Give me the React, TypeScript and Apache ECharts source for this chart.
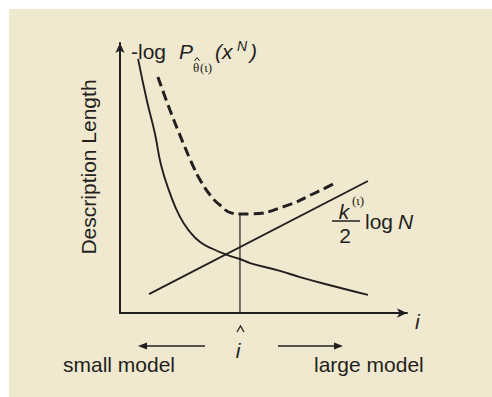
import React, { useEffect, useRef } from "react";
import * as echarts from "echarts";

// model index i (horizontal) and description length (vertical), arbitrary units 0..10
const fitI = [0.63, 0.94, 1.22, 1.43, 1.74, 2.09, 2.44, 2.79, 3.24, 3.73, 4.18, 4.53, 5.57, 6.27, 7.42, 8.64];
const fitLength = [9.41, 7.85, 6.63, 5.48, 4.44, 3.56, 3.0, 2.63, 2.37, 2.15, 2.0, 1.85, 1.56, 1.33, 1.0, 0.67];

const penaltyI = [1.01, 8.64];
const penaltyLength = [0.7, 4.89];

const totalI = [1.32, 1.74, 2.2, 2.58, 2.79, 3.14, 3.48, 3.9, 4.18, 4.53, 5.68, 6.86, 7.56];
const totalLength = [8.74, 7.52, 6.3, 5.37, 4.93, 4.37, 4.0, 3.7, 3.67, 3.67, 3.93, 4.48, 4.85];

const iHat = 4.18;
const iHatLength = 3.67;

const INK = "#231f20";
const SANS = "'Liberation Sans', Arial, sans-serif";
const SERIF = "'Liberation Serif', 'DejaVu Serif', serif";

const zip = (a: number[], b: number[]) => a.map((v, k) => [v, b[k]]);

export default function App() {
  const ref = useRef<HTMLDivElement>(null);
  useEffect(() => {
    document.body.style.margin = "0";
    const chart = echarts.init(ref.current!, undefined, { renderer: "svg" });
    const txt = (x: number, y: number, text: string, extra: any = {}, rot = 0) => ({
      type: "text",
      x,
      y,
      rotation: rot,
      style: {
        text,
        fill: INK,
        fontFamily: SANS,
        fontSize: 21,
        verticalAlign: "middle",
        align: "left",
        ...extra,
      },
    });
    const axis = {
      type: "value",
      min: 0,
      max: 10,
      axisLine: { show: true, lineStyle: { color: INK, width: 2 }, symbol: ["none", "arrow"], symbolSize: [7, 10] },
      axisTick: { show: false },
      axisLabel: { show: false },
      splitLine: { show: false },
    };
    chart.setOption({
      animation: false,
      backgroundColor: "#f0e9cf",
      grid: { left: 120, top: 43, width: 287, height: 270 },
      xAxis: axis,
      yAxis: axis,
      series: [
        {
          type: "line",
          name: "fit",
          data: zip(fitI, fitLength),
          smooth: 0.5,
          showSymbol: false,
          lineStyle: { color: INK, width: 1.9 },
        },
        {
          type: "line",
          name: "penalty",
          data: zip(penaltyI, penaltyLength),
          showSymbol: false,
          lineStyle: { color: INK, width: 1.9 },
        },
        {
          type: "line",
          name: "total",
          data: zip(totalI, totalLength),
          smooth: 0.5,
          showSymbol: false,
          lineStyle: { color: INK, width: 3, type: [10, 5] },
        },
        {
          type: "line",
          name: "iHat",
          data: [
            [iHat, 0],
            [iHat, iHatLength],
          ],
          showSymbol: false,
          lineStyle: { color: INK, width: 1.2 },
        },
      ],
      graphic: [
        { type: "rect", shape: { x: 0, y: 0, width: 492, height: 9 }, style: { fill: "#ffffff" } },
        { type: "rect", shape: { x: 0, y: 0, width: 9, height: 397 }, style: { fill: "#ffffff" } },
        // top curve label
        txt(131, 51, "-log"),
        txt(179, 51, "P", { fontStyle: "italic" }),
        {
          type: "polyline",
          shape: { points: [[194.5, 61], [197, 57.5], [199.5, 61]] },
          style: { stroke: INK, lineWidth: 1, fill: "none" },
        },
        txt(193, 67, "θ", { fontFamily: SERIF, fontSize: 13 }),
        txt(200, 67, "(ι)", { fontFamily: SERIF, fontSize: 13 }),
        txt(215, 51, "(x", { fontStyle: "italic" }),
        txt(237, 46, "N", { fontStyle: "italic", fontSize: 14 }),
        txt(250, 51, ")", { fontStyle: "italic" }),
        // y axis title
        txt(88, 167, "Description Length", { align: "center" }, Math.PI / 2),
        // penalty label
        txt(344, 211, "k", { fontStyle: "italic", align: "center" }),
        txt(352, 200, "(ι)", { fontFamily: SERIF, fontSize: 13 }),
        { type: "line", shape: { x1: 332, y1: 221, x2: 360, y2: 221 }, style: { stroke: INK, lineWidth: 1.5 } },
        txt(345, 235, "2", { align: "center" }),
        txt(365, 221, "log "),
        txt(398, 221, "N", { fontStyle: "italic" }),
        // x axis label
        txt(415, 321, "i", { fontStyle: "italic" }),
        // i-hat
        {
          type: "polyline",
          shape: { points: [[237, 332], [240.5, 326], [244, 332]] },
          style: { stroke: INK, lineWidth: 1.3, fill: "none" },
        },
        txt(238, 350, "i", { fontStyle: "italic", align: "center" }),
        // arrows
        { type: "line", shape: { x1: 205, y1: 346, x2: 145, y2: 346 }, style: { stroke: INK, lineWidth: 1.5 } },
        { type: "polygon", shape: { points: [[138, 346], [147, 342.5], [147, 349.5]] }, style: { fill: INK } },
        { type: "line", shape: { x1: 278, y1: 346, x2: 336, y2: 346 }, style: { stroke: INK, lineWidth: 1.5 } },
        { type: "polygon", shape: { points: [[343, 346], [334, 342.5], [334, 349.5]] }, style: { fill: INK } },
        txt(63, 364, "small model"),
        txt(314, 364, "large model"),
      ],
    });
    return () => chart.dispose();
  }, []);
  return <div ref={ref} style={{ width: 492, height: 397 }} />;
}
